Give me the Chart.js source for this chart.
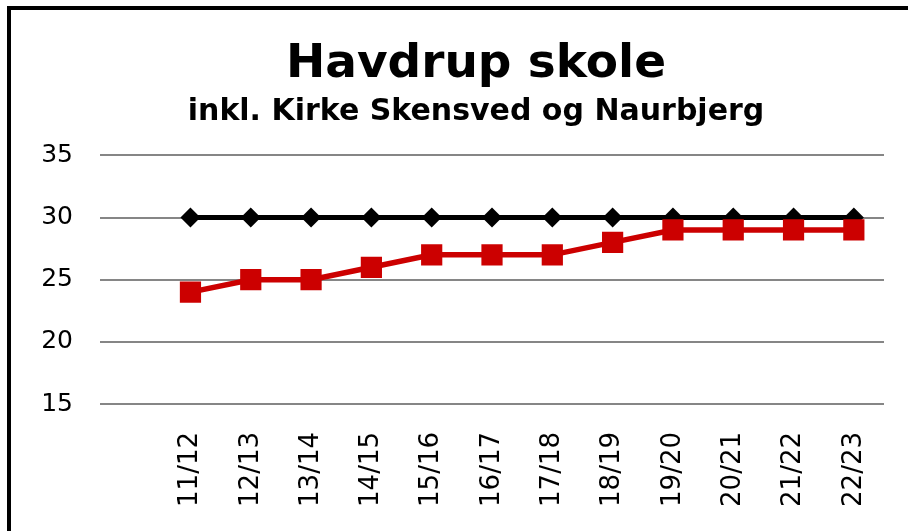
<!DOCTYPE html>
<html>
<head>
<meta charset="utf-8">
<script src="https://cdn.jsdelivr.net/npm/chart.js@4/dist/chart.umd.min.js"></script>
<style>
    html, body { margin: 0; padding: 0; background: #fff; overflow: hidden; }
    #frame {
        position: absolute; left: 7px; top: 6px;
        width: 930px; height: 540px;
        border: 4px solid #000;
    }
    canvas { display: block; }
</style>
</head>
<body>
<div id="frame"><canvas id="skoleChart" width="930" height="540"></canvas></div>
<script>
// første kategori er tom (luft før 11/12, som i originalen)
const years = ['', '11/12', '12/13', '13/14', '14/15', '15/16', '16/17', '17/18', '18/19', '19/20', '20/21', '21/22', '22/23'];
const elever = [null, 24, 25, 25, 26, 27, 27, 27, 28, 29, 29, 29, 29];
const graense = [null, 30, 30, 30, 30, 30, 30, 30, 30, 30, 30, 30, 30];
const yTicks = [15, 20, 25, 30, 35];

const font = 'DejaVu Sans';

const ctx = document.getElementById('skoleChart').getContext('2d');
new Chart(ctx, {
    type: 'line',
    data: {
        labels: years,
        datasets: [{
            label: 'Elever',
            data: elever,
            borderColor: '#CC0000',
            backgroundColor: '#CC0000',
            borderWidth: 5.5,
            pointStyle: 'rect',
            pointRadius: 15,
            pointBorderWidth: 0,
            tension: 0
        }, {
            label: 'Grænse',
            data: graense,
            borderColor: '#000000',
            backgroundColor: '#000000',
            borderWidth: 5,
            pointStyle: 'rectRot',
            pointRadius: 10,
            pointBorderWidth: 0,
            tension: 0
        }]
    },
    options: {
        responsive: false,
        animation: false,
        devicePixelRatio: 1,
        plugins: {
            legend: { display: false },
            tooltip: { enabled: false },
            title: {
                display: true,
                text: 'Havdrup skole',
                color: '#000',
                font: { family: font, size: 47, weight: 'bold' },
                padding: { top: 27, bottom: 0 }
            },
            subtitle: {
                display: true,
                text: 'inkl. Kirke Skensved og Naurbjerg',
                color: '#000',
                font: { family: font, size: 30, weight: 'bold' },
                padding: { top: 1, bottom: 25 }
            }
        },
        scales: {
            x: {
                offset: true,
                grid: { display: false, drawTicks: false },
                border: { display: false },
                ticks: {
                    color: '#000',
                    font: { family: font, size: 26 },
                    minRotation: 90,
                    maxRotation: 90,
                    autoSkip: false,
                    padding: 28
                },
                afterFit: scale => { scale.height = 146; }
            },
            y: {
                min: 15,
                max: 35,
                afterBuildTicks: scale => { scale.ticks = yTicks.map(v => ({ value: v })); },
                grid: { color: '#868686', lineWidth: 2, drawTicks: false },
                border: { display: false },
                ticks: {
                    color: '#000',
                    font: { family: font, size: 25 },
                    padding: 27
                },
                afterFit: scale => { scale.width = 89; }
            },
            // tom akse i højre side, giver luft så titlen står midt i rammen
            yRight: {
                type: 'linear',
                position: 'right',
                min: 15,
                max: 35,
                grid: { display: false, drawTicks: false },
                border: { display: false },
                ticks: { display: false },
                afterFit: scale => { scale.width = 57; }
            }
        }
    }
});
</script>
</body>
</html>
